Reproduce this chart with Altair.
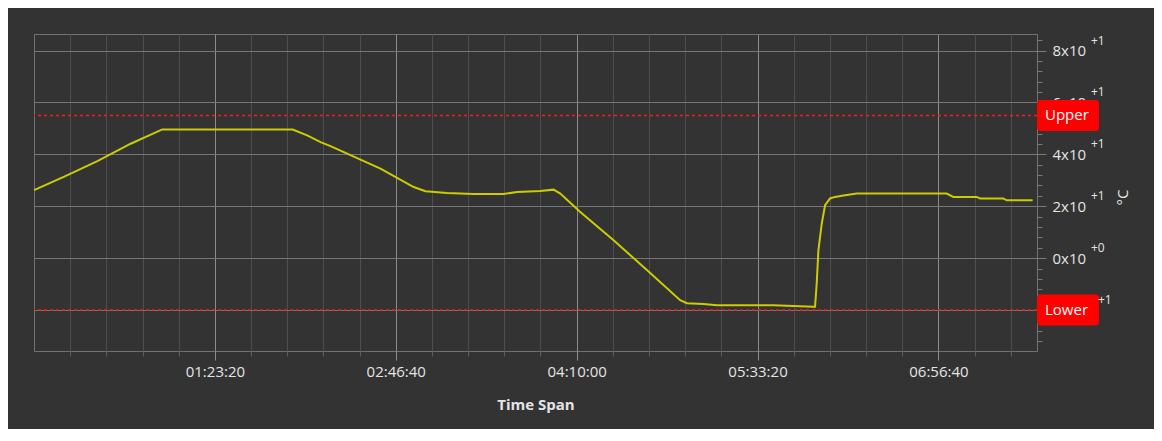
import altair as alt
import pandas as pd

# --- data ---
time_s = [0, 822, 1752, 2672, 3547, 7150, 7552, 7921, 8196, 8657, 9577, 10496,
          10820, 11419, 12146, 12982, 13352, 13996, 14363, 14548, 15100, 16021,
          16942, 17861, 18048, 18507, 18876, 20440, 21545, 21590, 21636, 21683,
          21775, 21867, 22005, 22143, 22375, 22743, 25229, 25413, 26058, 26150,
          26793, 26885, 27605]
temp_c = [26.2, 31.3, 37.4, 44.1, 49.6, 49.6, 47.3, 44.7, 43.2, 40.3, 34.5, 27.4,
          25.8, 25.1, 24.7, 24.7, 25.5, 25.9, 26.4, 24.9, 17.8, 6.9,
          -4.6, -16.2, -17.4, -17.7, -18.2, -18.2, -18.7, -18.7, -9.7, 3.1,
          13.3, 20.4, 23.0, 23.6, 24.1, 24.9, 24.9, 23.6, 23.6, 23.0,
          23.0, 22.3, 22.3]

limit_names = ["Upper", "Lower"]
limit_values = [55, -20]

label_values = [-20, 0, 20, 40, 60, 80]
label_exps = ["+1", "+0", "+1", "+1", "+1", "+1"]

x_ticks = list(range(1000, 27001, 1000))
y_ticks = list(range(-32, 85, 4))

line_df = pd.DataFrame({"t": time_s, "v": temp_c})
limit_df = pd.DataFrame({"name": limit_names, "v": limit_values})
exp_df = pd.DataFrame({"v": label_values, "e": label_exps})

FONT = "Open Sans"
TXT = "#e4e4e4"
BG = "#333333"
RED = "#ff0000"

x_scale = alt.Scale(domain=[0, 27725], nice=False, zero=False)
y_scale = alt.Scale(domain=[-35.8, 86.4], nice=False, zero=False)

major_x = "datum.value % 5000 === 0"
major_y = "datum.value % 20 === 0"

x_axis = alt.Axis(
    values=x_ticks,
    tickCount=500,
    labelExpr=f"{major_x} ? utcFormat(datum.value * 1000, '%H:%M:%S') : ''",
    labelOverlap=False,
    labelFlush=False,
    grid=True,
    gridColor={"condition": {"test": major_x, "value": "#8c8c8c"}, "value": "#4e4e4e"},
    gridWidth=1,
    tickColor={"condition": {"test": major_x, "value": "#8c8c8c"}, "value": "#5c5c5c"},
    tickSize={"condition": {"test": major_x, "value": 9}, "value": 5},
    domain=False,
    labelColor=TXT,
    labelFont=FONT,
    labelFontSize=15,
    labelPadding=4,
    title="Time Span",
    titleColor=TXT,
    titleFont=FONT,
    titleFontSize=15,
    titleFontWeight="bold",
    titlePadding=18,
)

# the -2x10 label sits fully under the "Lower" badge in the reference
y_axis = alt.Axis(
    orient="right",
    values=y_ticks,
    tickCount=500,
    labelExpr=f"({major_y}) && datum.value > -20 ? (datum.value / 10) + 'x10' : ''",
    labelOverlap=False,
    labelFlush=False,
    grid=True,
    gridColor="#767676",
    gridOpacity={"condition": {"test": major_y, "value": 1}, "value": 0},
    tickColor="#7a7a7a",
    tickSize={"condition": {"test": major_y, "value": 9}, "value": 5},
    domain=False,
    labelColor=TXT,
    labelFont=FONT,
    labelFontSize=15,
    labelPadding=6,
    title="°C",
    titleColor=TXT,
    titleFont=FONT,
    titleFontSize=15,
    titleFontWeight="normal",
    titleAngle=270,
    titleAlign="center",
    titleBaseline="middle",
    titleX=85,
    titleY=163,
)

line = alt.Chart(line_df).mark_line(color="#cccc00", strokeWidth=2).encode(
    x=alt.X("t:Q", scale=x_scale, axis=x_axis),
    y=alt.Y("v:Q", scale=y_scale, axis=y_axis),
)

limits = alt.Chart(limit_df).mark_rule(color="#ff1a1a", strokeWidth=1.5, strokeDash=[3, 3]).encode(
    y=alt.Y("v:Q", scale=y_scale),
)

boxes = alt.Chart(limit_df).mark_rect(color=RED, cornerRadius=3, yOffset=-15.5, y2Offset=15.5).encode(
    x=alt.value(1003),
    x2=alt.value(1065),
    y=alt.Y("v:Q", scale=y_scale),
    y2=alt.Y2("v:Q"),
)

box_text = alt.Chart(limit_df).mark_text(
    color="white", font=FONT, fontSize=15, align="left", baseline="middle"
).encode(
    x=alt.value(1011),
    y=alt.Y("v:Q", scale=y_scale),
    text="name:N",
)

exp_pos = alt.Chart(exp_df).transform_filter("datum.v >= 0").mark_text(
    color=TXT, font=FONT, fontSize=12, align="left", baseline="middle", dy=-10
).encode(
    x=alt.value(1057),
    y=alt.Y("v:Q", scale=y_scale),
    text="e:N",
)

exp_neg = alt.Chart(exp_df).transform_filter("datum.v < 0").mark_text(
    color=TXT, font=FONT, fontSize=12, align="left", baseline="middle", dy=-10
).encode(
    x=alt.value(1064),
    y=alt.Y("v:Q", scale=y_scale),
    text="e:N",
)

chart = alt.layer(line, limits, boxes, box_text, exp_pos, exp_neg).properties(
    width=1003,
    height=317,
    background=BG,
    padding={"left": 26, "top": 26, "right": 117, "bottom": 78},
    autosize=alt.AutoSizeParams(type="none"),
).configure_view(
    stroke="#727272",
    strokeWidth=1,
)

chart.save("out.html", embed_options={"renderer": "svg", "actions": False})
